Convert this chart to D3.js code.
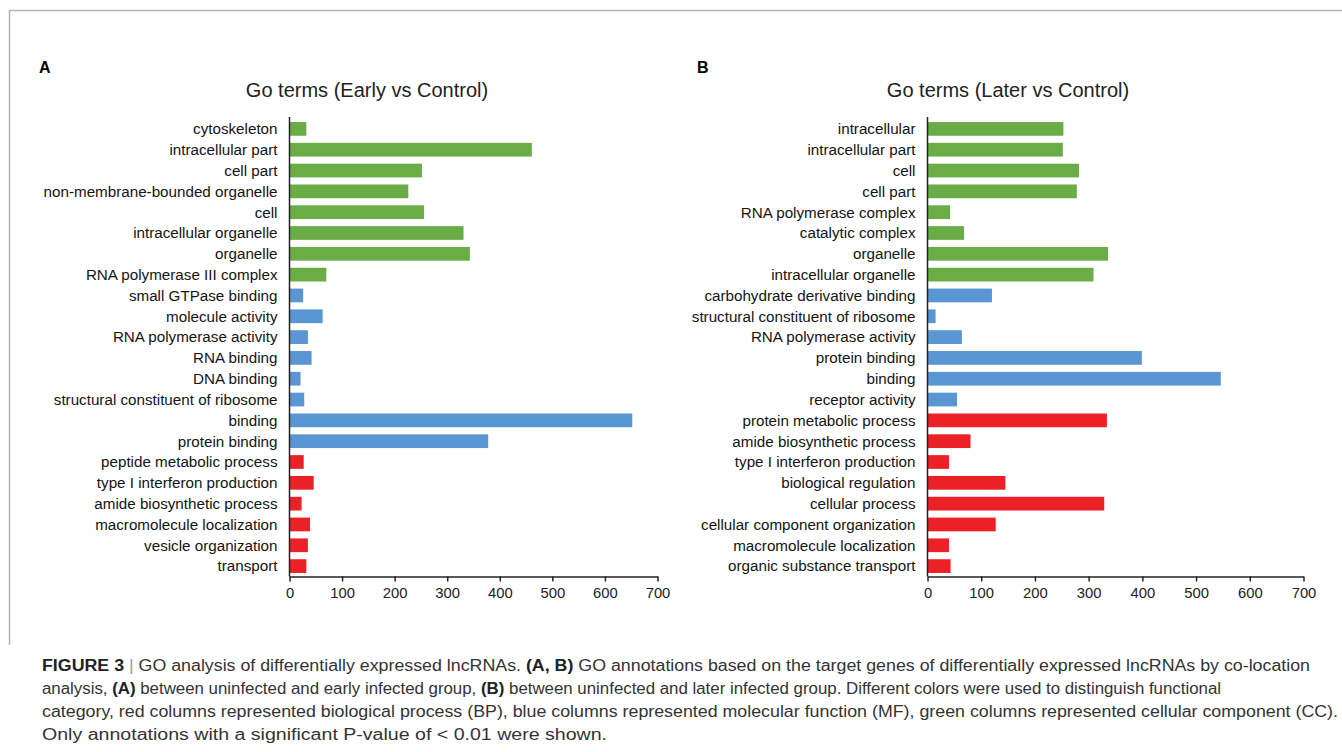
<!DOCTYPE html>
<html>
<head>
<meta charset="utf-8">
<script src="https://cdn.jsdelivr.net/npm/d3@7/dist/d3.min.js"></script>
<style>
  html, body { margin: 0; padding: 0; background: #fff; }
  svg { display: block; }
  text { font-family: "Liberation Sans", Arial, Helvetica, sans-serif; }
</style>
</head>
<body>
<svg id="fig" width="1342" height="752"></svg>
<script>
// GO term counts, early infection vs control
const earlyTerms = [
  "cytoskeleton", "intracellular part", "cell part", "non-membrane-bounded organelle",
  "cell", "intracellular organelle", "organelle", "RNA polymerase III complex",
  "small GTPase binding", "molecule activity", "RNA polymerase activity", "RNA binding",
  "DNA binding", "structural constituent of ribosome", "binding", "protein binding",
  "peptide metabolic process", "type I interferon production", "amide biosynthetic process",
  "macromolecule localization", "vesicle organization", "transport"
];
const earlyCounts = [32, 461, 252, 226, 256, 331, 343, 70, 26, 63, 35, 42, 21, 28, 652, 378, 27, 46, 23, 39, 35, 32];
const earlyCategory = ["CC","CC","CC","CC","CC","CC","CC","CC","MF","MF","MF","MF","MF","MF","MF","MF","BP","BP","BP","BP","BP","BP"];

// GO term counts, later infection vs control
const laterTerms = [
  "intracellular", "intracellular part", "cell", "cell part", "RNA polymerase complex",
  "catalytic complex", "organelle", "intracellular organelle", "carbohydrate derivative binding",
  "structural constituent of ribosome", "RNA polymerase activity", "protein binding", "binding",
  "receptor activity", "protein metabolic process", "amide biosynthetic process",
  "type I interferon production", "biological regulation", "cellular process",
  "cellular component organization", "macromolecule localization", "organic substance transport"
];
const laterCounts = [253, 252, 282, 278, 42, 68, 336, 309, 120, 15, 64, 399, 546, 55, 334, 80, 40, 145, 329, 127, 40, 43];
const laterCategory = ["CC","CC","CC","CC","CC","CC","CC","CC","MF","MF","MF","MF","MF","MF","BP","BP","BP","BP","BP","BP","BP","BP"];

const xTicks = [0, 100, 200, 300, 400, 500, 600, 700];
const categoryColors = { CC: "#6aad46", MF: "#5a96d3", BP: "#ec2027" };

const svg = d3.select("#fig");

// Figure frame
svg.append("path")
  .attr("d", "M9.5,645 L9.5,10.5 L1342,10.5")
  .attr("fill", "none")
  .attr("stroke", "#b4b4b4")
  .attr("stroke-width", 1.5);

function drawPanel(opt) {
  const { letter, letterX, title, titleX, terms, counts, cats, x0, x1 } = opt;
  const g = svg.append("g");

  g.append("text")
    .attr("x", letterX).attr("y", 73)
    .attr("font-size", 16).attr("font-weight", "bold").attr("fill", "#000")
    .text(letter);

  g.append("text")
    .attr("x", titleX).attr("y", 97)
    .attr("text-anchor", "middle")
    .attr("font-size", 20).attr("fill", "#222")
    .text(title);

  const x = d3.scaleLinear().domain([0, 700]).range([x0, x1]);
  const y = d3.scaleBand().domain(terms).range([118.5, 576.5]).paddingInner(0.34).paddingOuter(0.17);

  const rows = terms.map((t, i) => ({ term: t, value: counts[i], cat: cats[i] }));

  g.selectAll("rect.bar").data(rows).join("rect")
    .attr("class", "bar")
    .attr("x", x(0))
    .attr("y", d => y(d.term))
    .attr("width", d => x(d.value) - x(0))
    .attr("height", y.bandwidth())
    .attr("fill", d => categoryColors[d.cat]);

  // Category labels
  g.selectAll("text.term").data(rows).join("text")
    .attr("class", "term")
    .attr("x", x0 - 12)
    .attr("y", d => y(d.term) + y.bandwidth() / 2)
    .attr("dy", "0.35em")
    .attr("text-anchor", "end")
    .attr("font-size", 15.2)
    .attr("fill", "#141414")
    .text(d => d.term);

  // Vertical axis line
  g.append("line")
    .attr("x1", x0).attr("x2", x0)
    .attr("y1", 117).attr("y2", 576.5)
    .attr("stroke", "#222").attr("stroke-width", 1.5);

  // Value axis
  const axis = d3.axisBottom(x).tickValues(xTicks).tickSize(5).tickSizeOuter(0).tickPadding(6);
  const ax = g.append("g").attr("transform", "translate(0,576.5)").call(axis);
  ax.select(".domain").attr("stroke", "#222").attr("stroke-width", 1.5);
  ax.selectAll(".tick line").attr("stroke", "#222").attr("stroke-width", 1.5);
  ax.selectAll(".tick text")
    .attr("font-size", 14.8)
    .attr("fill", "#222")
    .attr("font-family", "'Liberation Sans', Arial, sans-serif");
}

drawPanel({
  letter: "A", letterX: 39, title: "Go terms (Early vs Control)", titleX: 367,
  terms: earlyTerms, counts: earlyCounts, cats: earlyCategory, x0: 289.5, x1: 657.5
});
drawPanel({
  letter: "B", letterX: 697, title: "Go terms (Later vs Control)", titleX: 1008,
  terms: laterTerms, counts: laterCounts, cats: laterCategory, x0: 927.5, x1: 1303.5
});

// Caption
const captionLines = [
  { width: 1268, parts: [
    ["FIGURE 3", true, "#222"], [" | ", false, "#999"],
    ["GO analysis of differentially expressed lncRNAs. ", false, "#333"], ["(A, B)", true, "#222"],
    [" GO annotations based on the target genes of differentially expressed lncRNAs by co-location", false, "#333"]
  ]},
  { width: 1179, parts: [
    ["analysis, ", false, "#333"], ["(A)", true, "#222"],
    [" between uninfected and early infected group, ", false, "#333"], ["(B)", true, "#222"],
    [" between uninfected and later infected group. Different colors were used to distinguish functional", false, "#333"]
  ]},
  { width: 1296, parts: [
    ["category, red columns represented biological process (BP), blue columns represented molecular function (MF), green columns represented cellular component (CC).", false, "#333"]
  ]},
  { width: 565, parts: [
    ["Only annotations with a significant P-value of < 0.01 were shown.", false, "#333"]
  ]}
];

captionLines.forEach((line, i) => {
  const t = svg.append("text")
    .attr("x", 42)
    .attr("y", 671 + i * 23)
    .attr("font-size", 16)
    .attr("font-family", "'Liberation Sans Narrow', 'Arial Narrow', 'Liberation Sans', sans-serif")
    .attr("textLength", line.width)
    .attr("lengthAdjust", "spacingAndGlyphs")
    .attr("xml:space", "preserve");
  line.parts.forEach(([s, bold, col]) => {
    t.append("tspan")
      .attr("font-weight", bold ? "bold" : "normal")
      .attr("fill", col)
      .text(s);
  });
});
</script>
</body>
</html>
